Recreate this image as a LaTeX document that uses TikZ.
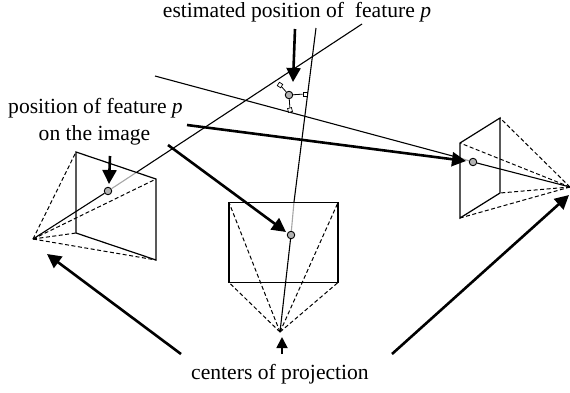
\documentclass[tikz,border=0pt]{standalone}
\usepackage{fontspec}
\setmainfont{Liberation Serif}
\usetikzlibrary{arrows.meta, calc}

\begin{document}
\begin{tikzpicture}[
    x=1pt, y=-1pt,
    ray/.style={line width=1.1pt},
    raygray/.style={line width=1.1pt, gray!70},
    frame/.style={line width=1.2pt},
    sight/.style={line width=1pt, dash pattern=on 4pt off 2.5pt},
    arrow/.style={-{Triangle[length=14pt, width=14pt]}, line width=2.6pt},
    feature/.style={circle, draw, line width=0.9pt, fill=gray!60, inner sep=0pt, minimum size=7.5pt},
    corner/.style={draw, fill=white, line width=0.7pt, inner sep=0pt, minimum size=4pt},
    label/.style={font=\fontsize{21.6}{24}\selectfont, inner sep=0pt, anchor=base}
]
\useasboundingbox (0,0) rectangle (570,392);

% Centers of projection
\coordinate (cleft) at (33,239);
\coordinate (cmid) at (280,332);
\coordinate (cright) at (570,187);

% Image planes
\coordinate (l1) at (76,152);
\coordinate (l2) at (156,179);
\coordinate (l3) at (156,260);
\coordinate (l4) at (76,233);
\coordinate (m1) at (229,202.5);
\coordinate (m2) at (338,202.5);
\coordinate (m3) at (338,282.5);
\coordinate (m4) at (229,282.5);
\coordinate (r1) at (460,143);
\coordinate (r2) at (500,118);
\coordinate (r3) at (500,193);
\coordinate (r4) at (460,218);

% Ray ends
\coordinate (eleft) at (362,24);
\coordinate (emid) at (316,28);
\coordinate (eright) at (155,76);
\coordinate (gleft) at (137,172);
\coordinate (gmid) at (294,202);
\coordinate (gright) at (460,158);

% Feature points
\node[feature] (fleft) at (108,191) {};
\node[feature] (fmid) at (291,235) {};
\node[feature] (fright) at (473,162) {};
\node[feature] (est) at (289,95) {};

% Rays
\draw[ray] (cleft) -- (fleft);
\draw[raygray] (fleft) -- (gleft);
\draw[ray] (gleft) -- (eleft);
\draw[ray] (cmid) -- (fmid);
\draw[raygray] (fmid) -- (gmid);
\draw[ray] (gmid) -- (emid);
\draw[ray] (cright) -- (fright);
\draw[raygray] (fright) -- (gright);
\draw[ray] (gright) -- (eright);

% Image frames
\draw[frame] (l1) -- (l2) -- (l3) -- (l4) -- cycle;
\draw[frame] (m1) -- (m2) -- (m3) -- (m4) -- cycle;
\draw[frame] (r1) -- (r2) -- (r3) -- (r4) -- cycle;

% Dashed lines to the corners
\foreach \c in {l1,l2,l3,l4} \draw[sight] (cleft) -- (\c);
\foreach \c in {m1,m2,m3,m4} \draw[sight] (cmid) -- (\c);
\foreach \c in {r1,r2,r3,r4} \draw[sight] (cright) -- (\c);

% Perpendiculars from the estimate
\node[corner, rotate=-33] (p1) at (280,85) {};
\node[corner] (p2) at (305,94) {};
\node[corner, rotate=15] (p3) at (290,110) {};
\draw[line width=0.8pt] (est) -- (p1);
\draw[line width=0.8pt] (est) -- (p2);
\draw[line width=0.8pt] (est) -- (p3);

% Labels
\node[label] (ltop) at (297,17) {estimated position of\ \ feature \textit{p}};
\node[label] (lpos) at (95.5,113) {position of feature \textit{p}};
\node[label] (limg) at (94.5,140) {on the image};
\node[label] (lcen) at (280,379) {centers of projection};

% Arrow ends
\coordinate (atop) at (295,29);
\coordinate (tiptop) at (293,82);
\coordinate (aimg) at (110,156);
\coordinate (tipimg) at (109,184);
\coordinate (aright) at (187,125);
\coordinate (tipright) at (466,161);
\coordinate (amid) at (168,145);
\coordinate (tipmid) at (286,232);
\coordinate (acleft) at (181,354);
\coordinate (tipcleft) at (47,254);
\coordinate (acmid) at (282,354);
\coordinate (tipcmid) at (282,337);
\coordinate (acright) at (392,354);
\coordinate (tipcright) at (569,195);

% Arrows
\draw[arrow] (atop) -- (tiptop);
\draw[arrow] (aimg) -- (tipimg);
\draw[arrow] (aright) -- (tipright);
\draw[arrow] (amid) -- (tipmid);
\draw[arrow] (acleft) -- (tipcleft);
\draw[arrow] (acright) -- (tipcright);
\draw[-{Triangle[length=11pt, width=11pt]}, line width=1.8pt] (acmid) -- (tipcmid);

\end{tikzpicture}
\end{document}
